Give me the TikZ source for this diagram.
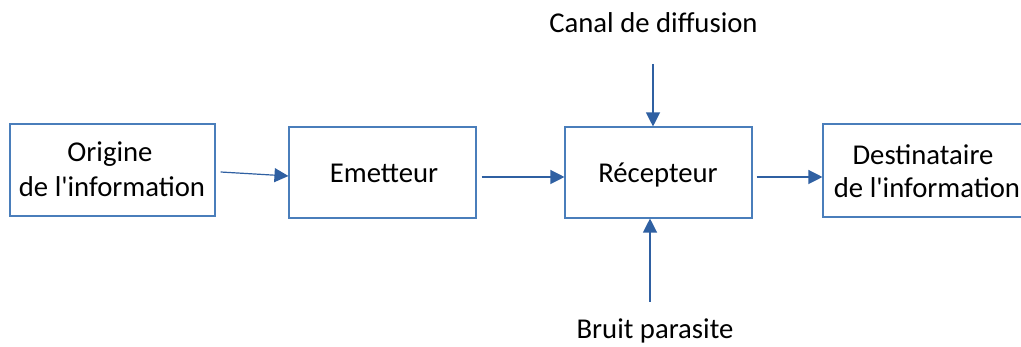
\documentclass[tikz,border=0pt]{standalone}
\usepackage{fontspec}
\setmainfont{Carlito}[Ligatures=TeXOff]
\usetikzlibrary{arrows.meta}
\definecolor{boxblue}{RGB}{74,126,187}
\definecolor{arrblue}{RGB}{47,96,162}
\begin{document}
\begin{tikzpicture}[x=1pt,y=-1pt,
  blk/.style={draw=boxblue,line width=1.1pt,rectangle,inner sep=0pt},
  lbl/.style={font=\fontsize{28.7}{34}\selectfont,anchor=base,inner sep=0pt,text=black},
  arr/.style={draw=arrblue,line width=1.2pt,-{Triangle[length=14pt,width=14pt]}}]
\useasboundingbox (0,0) rectangle (1021,347);
% boxes
\node[blk,minimum width=205pt,minimum height=92pt] (orig) at (112.5,170) {};
\node[blk,minimum width=187pt,minimum height=91pt] (emet) at (382.5,172.5) {};
\node[blk,minimum width=187pt,minimum height=91pt] (rec) at (658.5,172.5) {};
\node[blk,minimum width=200pt,minimum height=93pt] (dest) at (923,170.5) {};
% texts
\node[lbl] (t1) at (110,162) {Origine};
\node[lbl] (t2) at (112,197) {de l'information};
\node[lbl] (t3) at (384,183) {Emetteur};
\node[lbl] (t4) at (658,183) {Récepteur};
\node[lbl] (t5) at (923,165) {Destinataire};
\node[lbl] (t6) at (927,198) {de l'information};
\node[lbl] (canal) at (653.5,33) {Canal de diffusion};
\node[lbl] (bruit) at (655,339) {Bruit parasite};
% free ends
\coordinate (ctop) at (653,64);
\coordinate (bbot) at (650,302);
% connectors
\draw[arr] ([xshift=5pt,yshift=-2pt]orig.east) -- ([yshift=-3.5pt]emet.west);
\draw[arr] ([xshift=5pt,yshift=-4.5pt]emet.east) -- ([yshift=-4.5pt]rec.west);
\draw[arr] ([xshift=4pt,yshift=-4.5pt]rec.east) -- ([yshift=-6.5pt]dest.west);
\draw[arr] (ctop) -- ([xshift=-5.5pt]rec.north);
\draw[arr] (bbot) -- ([xshift=-8.5pt]rec.south);
\end{tikzpicture}
\end{document}
